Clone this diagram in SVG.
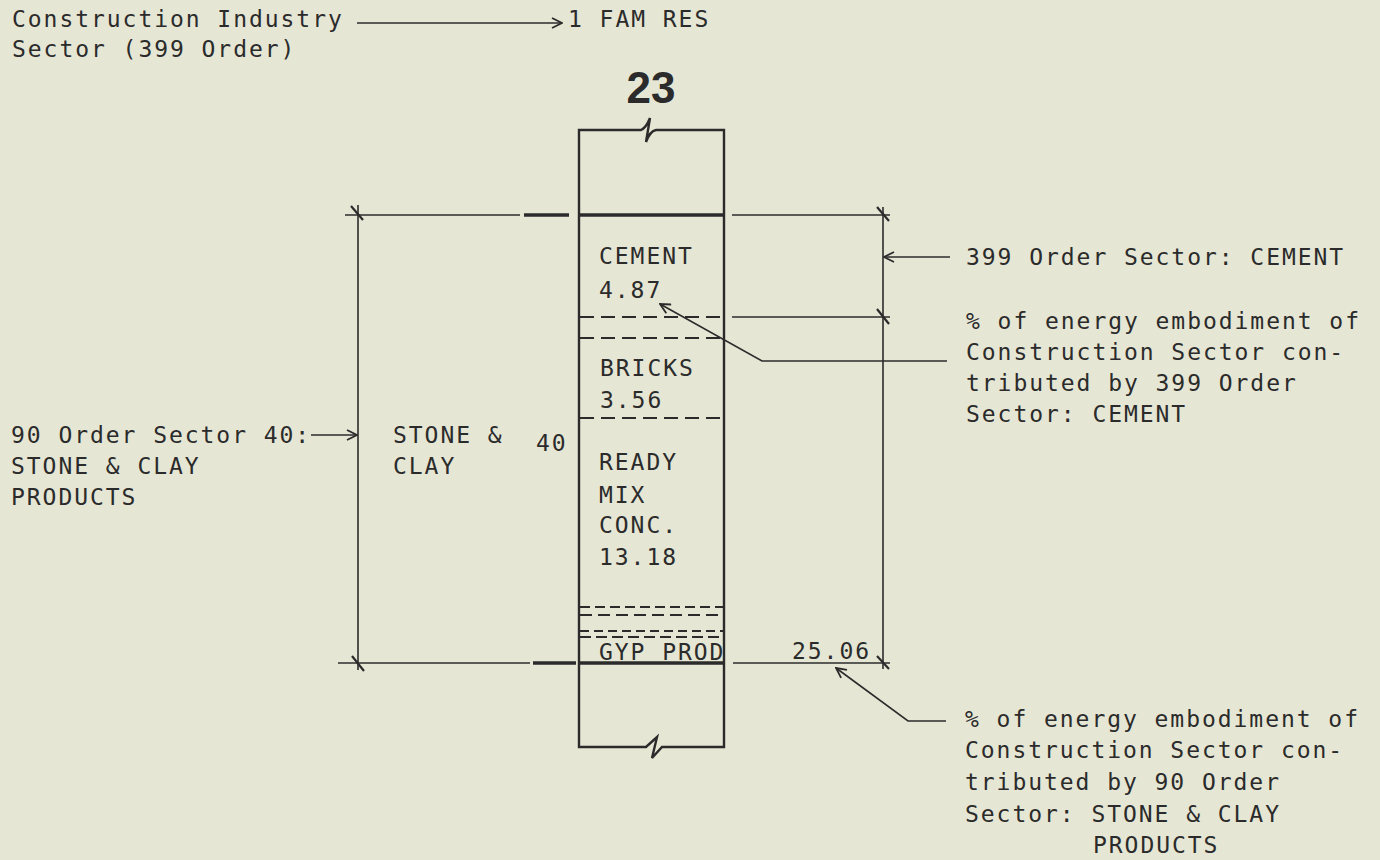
<svg xmlns="http://www.w3.org/2000/svg" width="1380" height="860" viewBox="0 0 1380 860">
<style>
.t{font-family:"DejaVu Sans Mono","Liberation Mono",monospace;font-size:23px;letter-spacing:1.95px;fill:#2b2b2b}
.thin{stroke:#2b2b2b;stroke-width:1.6;fill:none}
.med{stroke:#2b2b2b;stroke-width:2.4;fill:none}
.thick{stroke:#2b2b2b;stroke-width:3.6;fill:none}
.dash{stroke:#2b2b2b;stroke-width:1.8;fill:none;stroke-dasharray:14 7}
.tick{stroke:#2b2b2b;stroke-width:2.2;fill:none}
</style>
<defs>
<marker id="arr" viewBox="0 0 12 12" refX="11" refY="6" markerWidth="12" markerHeight="12" markerUnits="userSpaceOnUse" orient="auto">
<path d="M1,1 L11,6 L1,11" fill="none" stroke="#2b2b2b" stroke-width="1.8"/>
</marker>
</defs>
<rect width="1380" height="860" fill="#e6e6d5"/>

<g id="title-label">
<text class="t" x="12" y="27">Construction Industry</text>
<text class="t" x="12" y="57">Sector (399 Order)</text>
<text class="t" x="568" y="27">1 FAM RES</text>
</g>

<g id="column-23">
<text x="651" y="103" text-anchor="middle" style="font-family:'Liberation Sans',Arial,sans-serif;font-weight:bold;font-size:44px;fill:#2b2b2b">23</text>
<path class="med" d="M579,215 V130 H641 Q646,128 650,118 L646,142 Q650,131 656,130 H724 V215"/>
<path class="med" d="M579,663 V747 H646 L657,737 L652,758 L662,747 H724 V663"/>
<line class="med" x1="579" y1="215" x2="579" y2="663"/>
<line class="med" x1="724" y1="215" x2="724" y2="663"/>
<line class="thick" x1="579" y1="215" x2="724" y2="215"/>
<line class="thick" x1="579" y1="663" x2="724" y2="663"/>
</g>

<g id="cement">
<text class="t" x="599" y="264">CEMENT</text>
<text class="t" x="599" y="298">4.87</text>
<line class="dash" x1="580" y1="317" x2="724" y2="317"/>
</g>

<g id="bricks">
<line class="dash" x1="580" y1="338" x2="724" y2="338"/>
<text class="t" x="600" y="376">BRICKS</text>
<text class="t" x="600" y="408">3.56</text>
<line class="dash" x1="580" y1="418" x2="724" y2="418"/>
</g>

<g id="ready-mix">
<text class="t" x="599" y="470">READY</text>
<text class="t" x="599" y="503">MIX</text>
<text class="t" x="599" y="533">CONC.</text>
<text class="t" x="599" y="565">13.18</text>
<line class="dash" x1="580" y1="607" x2="724" y2="607" style="stroke-dasharray:10 5"/>
<line class="dash" x1="580" y1="615" x2="724" y2="615" style="stroke-dasharray:12 6"/>
<line class="dash" x1="580" y1="631" x2="724" y2="631" style="stroke-dasharray:9 5"/>
<line class="dash" x1="580" y1="637" x2="724" y2="637" style="stroke-dasharray:11 5"/>
</g>

<g id="gyp-prod">
<text class="t" x="599" y="660">GYP PROD</text>
</g>

<g id="stone-clay">
<text class="t" x="393" y="443">STONE &amp;</text>
<text class="t" x="393" y="474">CLAY</text>
<text class="t" x="536" y="451">40</text>
</g>

<g id="left-label">
<text class="t" x="11" y="443">90 Order Sector 40:</text>
<text class="t" x="11" y="474">STONE &amp; CLAY</text>
<text class="t" x="11" y="505">PRODUCTS</text>
</g>

<g id="right-label-399">
<text class="t" x="966" y="265">399 Order Sector: CEMENT</text>
</g>

<g id="right-label-pct399">
<text class="t" x="966" y="329">% of energy embodiment of</text>
<text class="t" x="966" y="360">Construction Sector con-</text>
<text class="t" x="966" y="391">tributed by 399 Order</text>
<text class="t" x="966" y="422">Sector: CEMENT</text>
</g>

<g id="total-2506">
<text class="t" x="792" y="659">25.06</text>
</g>

<g id="right-label-pct90">
<text class="t" x="965" y="727">% of energy embodiment of</text>
<text class="t" x="965" y="758">Construction Sector con-</text>
<text class="t" x="965" y="790">tributed by 90 Order</text>
<text class="t" x="965" y="822">Sector: STONE &amp; CLAY</text>
<text class="t" x="1093" y="853">PRODUCTS</text>
</g>

<g id="connectors">
<!-- top arrow -->
<line class="thin" x1="357" y1="23" x2="562" y2="23" marker-end="url(#arr)"/>
<!-- left dimension -->
<line class="thin" x1="345" y1="215" x2="520" y2="215"/>
<line class="thick" x1="524" y1="215" x2="569" y2="215"/>
<line class="thin" x1="338" y1="663" x2="530" y2="663"/>
<line class="thick" x1="533" y1="663" x2="576" y2="663"/>
<line class="thin" x1="358" y1="205" x2="358" y2="670"/>
<line class="tick" x1="351" y1="206" x2="363" y2="220"/>
<line class="tick" x1="352" y1="656" x2="364" y2="671"/>
<!-- left label arrow -->
<line class="thin" x1="311" y1="435" x2="357" y2="435" marker-end="url(#arr)"/>
<!-- right dimension -->
<line class="thin" x1="732" y1="215" x2="890" y2="215"/>
<line class="thin" x1="732" y1="317" x2="890" y2="317"/>
<line class="thin" x1="733" y1="663" x2="890" y2="663"/>
<line class="thin" x1="883" y1="207" x2="883" y2="669"/>
<line class="tick" x1="877" y1="207" x2="889" y2="221"/>
<line class="tick" x1="877" y1="309" x2="889" y2="324"/>
<line class="tick" x1="877" y1="656" x2="889" y2="669"/>
<!-- 399 order sector arrow -->
<line class="thin" x1="950" y1="257" x2="884" y2="257" marker-end="url(#arr)"/>
<!-- leader to 4.87 -->
<path class="thin" d="M947,361 H762 L660,304" marker-end="url(#arr)"/>
<!-- leader to 25.06 -->
<path class="thin" d="M946,721 H908 L836,668" marker-end="url(#arr)"/>
</g>
</svg>
